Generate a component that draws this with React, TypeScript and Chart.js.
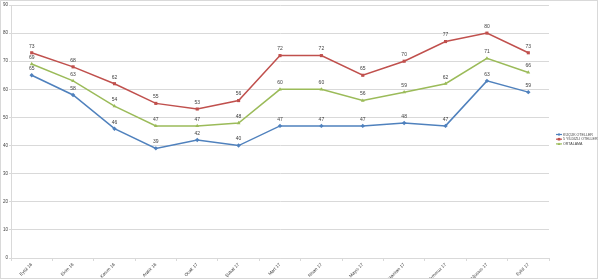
import React, { useEffect, useRef } from "react";
import { Chart, registerables } from "chart.js";

Chart.register(...registerables);

const categories = [
  "Eylül 16", "Ekim 16", "Kasım 16", "Aralık 16", "Ocak 17", "Şubat 17", "Mart 17",
  "Nisan 17", "Mayıs 17", "Haziran 17", "Temmuz 17", "Ağustos 17", "Eylül 17",
];
const kucukOteller = [65, 58, 46, 39, 42, 40, 47, 47, 47, 48, 47, 63, 59];
const besYildizli = [73, 68, 62, 55, 53, 56, 72, 72, 65, 70, 77, 80, 73];
const ortalama = [69, 63, 54, 47, 47, 48, 60, 60, 56, 59, 62, 71, 66];
const seriesNames = ["KÜÇÜK OTELLER", "5 YILDIZLI OTELLER", "ORTALAMA"];
const yTicks = [0, 10, 20, 30, 40, 50, 60, 70, 80, 90];

const colors = ["#4F81BD", "#C0504D", "#9BBB59"];
const markers = ["rectRot", "rect", "triangle"];

const framePlugin = {
  id: "frame",
  beforeDraw(chart: any) {
    const ctx = chart.ctx;
    ctx.save();
    ctx.fillStyle = "#ffffff";
    ctx.fillRect(0, 0, chart.width, chart.height);
    ctx.strokeStyle = "#d9d9d9";
    ctx.lineWidth = 1;
    ctx.strokeRect(0.5, 0.5, chart.width - 3, chart.height - 1);
    ctx.restore();
  },
};

const labelPlugin = {
  id: "valueLabels",
  afterDatasetsDraw(chart: any) {
    const ctx = chart.ctx;
    ctx.save();
    ctx.font = "5px Arial, 'Liberation Sans', sans-serif";
    ctx.fillStyle = "#404040";
    ctx.textAlign = "center";
    ctx.textBaseline = "bottom";
    chart.data.datasets.forEach((ds: any, i: number) => {
      const meta = chart.getDatasetMeta(i);
      meta.data.forEach((pt: any, j: number) => {
        ctx.fillText(String(ds.data[j]), pt.x, pt.y - 4);
      });
    });
    ctx.restore();
  },
};

const legendPlugin = {
  id: "customLegend",
  afterDraw(chart: any) {
    const ctx = chart.ctx;
    ctx.save();
    ctx.font = "3.6px Arial, 'Liberation Sans', sans-serif";
    ctx.textBaseline = "middle";
    ctx.textAlign = "left";
    seriesNames.forEach((name, i) => {
      const y = 134.5 + i * 4.7;
      const x0 = 556;
      const x1 = 562;
      ctx.strokeStyle = colors[i];
      ctx.lineWidth = 1.2;
      ctx.beginPath();
      ctx.moveTo(x0, y);
      ctx.lineTo(x1, y);
      ctx.stroke();
      ctx.fillStyle = colors[i];
      const cx = (x0 + x1) / 2;
      ctx.beginPath();
      if (i === 0) {
        ctx.moveTo(cx, y - 1.5);
        ctx.lineTo(cx + 1.5, y);
        ctx.lineTo(cx, y + 1.5);
        ctx.lineTo(cx - 1.5, y);
      } else if (i === 1) {
        ctx.rect(cx - 1.3, y - 1.3, 2.6, 2.6);
      } else {
        ctx.moveTo(cx, y - 1.5);
        ctx.lineTo(cx + 1.5, y + 1.2);
        ctx.lineTo(cx - 1.5, y + 1.2);
      }
      ctx.closePath();
      ctx.fill();
      ctx.fillStyle = "#404040";
      ctx.fillText(name, x1 + 1, y);
    });
    ctx.restore();
  },
};

export default function App() {
  const ref = useRef<HTMLCanvasElement | null>(null);
  useEffect(() => {
    document.body.style.margin = "0";
    if (!ref.current) return;
    const series = [kucukOteller, besYildizli, ortalama];
    const chart = new Chart(ref.current, {
      type: "line",
      data: {
        labels: categories,
        datasets: series.map((d, i) => ({
          label: seriesNames[i],
          data: d,
          borderColor: colors[i],
          backgroundColor: colors[i],
          borderWidth: 1.5,
          pointStyle: markers[i] as any,
          pointRadius: 2.2,
          pointBorderWidth: 0,
          tension: 0,
          fill: false,
        })),
      },
      options: {
        animation: false,
        responsive: false,
        maintainAspectRatio: false,
        layout: { padding: { top: 5, right: 51, left: 0, bottom: 1 } },
        plugins: {
          legend: { display: false },
          tooltip: { enabled: false },
        },
        scales: {
          x: {
            offset: true,
            grid: {
              display: true,
              drawOnChartArea: false,
              drawTicks: true,
              tickLength: 3,
              offset: true,
              color: "#d9d9d9",
            },
            border: { color: "#d9d9d9" },
            ticks: {
              autoSkip: false,
              maxRotation: 45,
              minRotation: 45,
              font: { size: 4.5, family: "Arial, 'Liberation Sans', sans-serif" },
              color: "#404040",
              padding: 1,
            },
            afterFit: (axis: any) => {
              axis.height = 20;
            },
          },
          y: {
            min: 0,
            max: 90,
            afterBuildTicks: (axis: any) => {
              axis.ticks = yTicks.map((v) => ({ value: v }));
            },
            grid: { color: "#d9d9d9", drawTicks: true, tickLength: 2 },
            border: { color: "#d9d9d9" },
            ticks: {
              font: { size: 4.5, family: "Arial, 'Liberation Sans', sans-serif" },
              color: "#404040",
              padding: 1,
            },
            afterFit: (axis: any) => {
              axis.width = 11;
            },
          },
        },
      },
      plugins: [framePlugin, labelPlugin, legendPlugin],
    });
    return () => chart.destroy();
  }, []);
  return (
    <div style={{ width: 600, height: 279 }}>
      <canvas ref={ref} width={600} height={279} style={{ display: "block", width: 600, height: 279 }} />
    </div>
  );
}
